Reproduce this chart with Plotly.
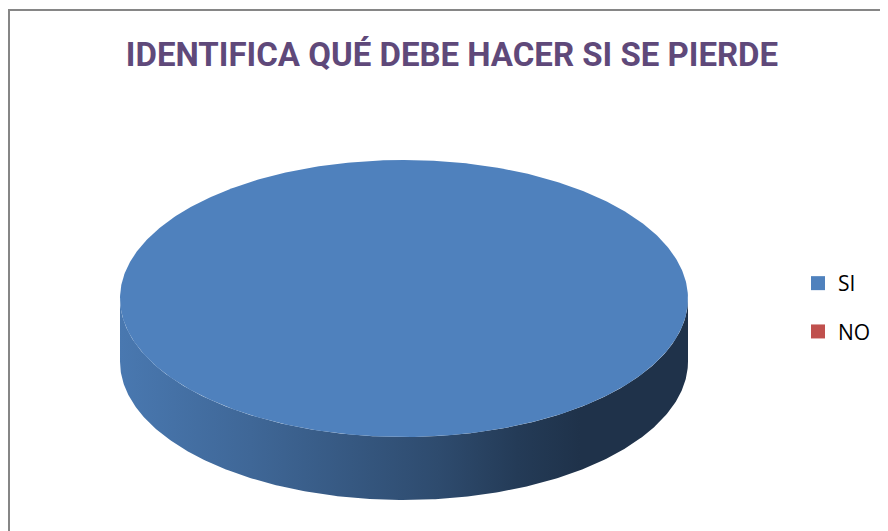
import numpy as np
import plotly.graph_objects as go

# ---- data ----
categories = ["SI", "NO"]
values = [100, 0]
colors = ["#4F81BD", "#C0504D"]
title_text = "IDENTIFICA QUÉ DEBE HACER SI SE PIERDE"

# ---- geometry / style ----
W, H = 888, 531          # browser window
OFF = 8                  # default page body margin
FW, FH = W - OFF, H - OFF
CX, CY, RX, RY, DEPTH = 404, 298.5, 284, 138.5, 63
# side shading factors (left -> right)
shade_stops = [(0.0, 0.93), (0.23, 0.80), (0.56, 0.58), (0.70, 0.46), (0.81, 0.39), (1.0, 0.39)]


def hex_to_rgb(h):
    h = h.lstrip("#")
    return tuple(int(h[i:i + 2], 16) for i in (0, 2, 4))


def shade(col, f):
    r, g, b = hex_to_rgb(col)
    return "rgb(%d,%d,%d)" % (round(r * f), round(g * f), round(b * f))


fig = go.Figure()

total = float(sum(values))
start = 0.0
sides = []
tops = []
for cat, val, col in zip(categories, values, colors):
    frac = val / total
    a0 = 2 * np.pi * start
    a1 = 2 * np.pi * (start + frac)
    start += frac
    if frac <= 0:
        continue
    n = max(int(600 * frac), 3)
    th = np.linspace(a0, a1, n)
    tx = CX + RX * np.sin(th)
    ty = CY - RY * np.cos(th)
    if frac < 1:
        tx = np.concatenate([[CX], tx, [CX]])
        ty = np.concatenate([[CY], ty, [CY]])
    pct = "%d%%" % round(frac * 100)
    tops.append(go.Scatter(
        x=tx, y=ty, mode="lines", fill="toself", fillcolor=col,
        line=dict(width=0, color=col), showlegend=False, legendgroup=cat,
        name=cat, hoveron="fills", text="%s: %s (%s)" % (cat, val, pct), hoverinfo="text"))
    lo = max(a0, np.pi / 2)
    hi = min(a1, 3 * np.pi / 2)
    if hi > lo:
        ts = np.linspace(lo, hi, max(int(600 * (hi - lo) / (2 * np.pi)), 3))
        sx = CX + RX * np.sin(ts)
        sy = CY - RY * np.cos(ts)
        px = np.concatenate([sx, sx[::-1]])
        py = np.concatenate([sy, (sy + DEPTH)[::-1]])
        sides.append(go.Scatter(
            x=px, y=py, mode="lines", fill="toself",
            fillgradient=dict(type="horizontal", start=CX - RX, stop=CX + RX,
                              colorscale=[[p, shade(col, f)] for p, f in shade_stops]),
            line=dict(width=0, color=shade(col, 0.6)), showlegend=False,
            legendgroup=cat, name=cat, hoverinfo="skip"))

for tr in sides + tops:
    fig.add_trace(tr)

# legend entries
for cat, col in zip(categories, colors):
    fig.add_trace(go.Scatter(
        x=[None], y=[None], mode="markers", name=cat, legendgroup=cat,
        marker=dict(symbol="square", size=14, color=col, line=dict(width=0))))

# chart border
fig.add_shape(type="path", path="M 9,531 L 9,10 L 888,10",
              line=dict(color="#868686", width=2), xref="x", yref="y")

fig.update_layout(
    width=FW, height=FH,
    margin=dict(l=0, r=0, t=0, b=0),
    paper_bgcolor="white", plot_bgcolor="white",
    xaxis=dict(range=[OFF, W], visible=False, fixedrange=True),
    yaxis=dict(range=[H, OFF], visible=False, fixedrange=True),
    title=dict(text="<b>" + title_text + "</b>", x=(452 - OFF) / FW, y=1 - (54 - OFF) / FH,
               xanchor="center", yanchor="middle",
               font=dict(family="Roboto", size=33, color="#5F497A")),
    legend=dict(x=(798 - OFF) / FW, y=1 - (263 - OFF) / FH, xanchor="left", yanchor="top",
                font=dict(family="Open Sans", size=21, color="#000000"),
                tracegroupgap=18, itemwidth=30, bgcolor="rgba(0,0,0,0)"),
    hovermode="closest",
)

fig.write_html("out.html")
